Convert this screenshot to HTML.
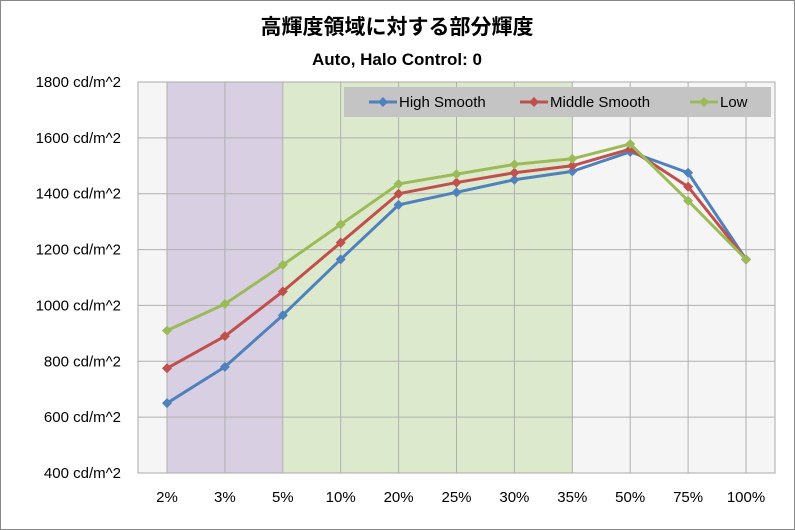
<!DOCTYPE html>
<html><head><meta charset="utf-8"><style>
body{margin:0;background:#fff;}
svg{display:block;font-family:"Liberation Sans","Noto Sans CJK JP",sans-serif;}
</style></head><body>
<svg id="s" width="795" height="530" xmlns="http://www.w3.org/2000/svg">
<rect x="0.5" y="0.5" width="794" height="529" fill="#fff" stroke="#888"/>
<text x="397" y="34" text-anchor="middle" font-size="21" font-weight="bold" fill="#000">高輝度領域に対する部分輝度</text>
<text x="397" y="65" text-anchor="middle" font-size="17" font-weight="bold" fill="#000">Auto, Halo Control: 0</text>
<rect x="138" y="82" width="637" height="391" fill="#f5f5f5"/>
<rect x="167" y="82" width="116" height="391" fill="#d8d0e2"/>
<rect x="283" y="82" width="290" height="391" fill="#dde9cc"/>
<g id="grid"></g>
<rect x="138" y="82" width="637" height="391" fill="none" stroke="#aaa"/>
<g id="series"></g>
<rect x="344" y="87" width="427" height="30" fill="#c4c4c4"/>
<g font-size="15" fill="#000">
<line x1="369" y1="102" x2="397" y2="102" stroke="#4f81bd" stroke-width="3"/><path d="M383 97l5 5-5 5-5-5z" fill="#4f81bd"/><text x="399" y="107">High Smooth</text>
<line x1="520" y1="102" x2="548" y2="102" stroke="#c0504d" stroke-width="3"/><path d="M534 97l5 5-5 5-5-5z" fill="#c0504d"/><text x="550" y="107">Middle Smooth</text>
<line x1="690" y1="102" x2="718" y2="102" stroke="#9bbb59" stroke-width="3"/><path d="M704 97l5 5-5 5-5-5z" fill="#9bbb59"/><text x="720" y="107">Low</text>
</g>
</svg>
<script>
const ns="http://www.w3.org/2000/svg";
const X=i=>167+i*57.9, Y=v=>473-(v-400)*391/1400;
const g=document.getElementById('grid'), sg=document.getElementById('series');
function el(p,t,a,txt){const e=document.createElementNS(ns,t);for(const k in a)e.setAttribute(k,a[k]);if(txt)e.textContent=txt;p.appendChild(e);return e;}
for(let v=400;v<=1800;v+=200){el(g,'line',{x1:138,x2:775,y1:Y(v),y2:Y(v),stroke:'#b0b0b0'});el(g,'text',{x:121,y:Y(v)+5,'text-anchor':'end','font-size':15},v+' cd/m^2');}
const labs=['2%','3%','5%','10%','20%','25%','30%','35%','50%','75%','100%'];
labs.forEach((l,i)=>{el(g,'line',{x1:X(i),x2:X(i),y1:82,y2:473,stroke:'#b0b0b0'});el(g,'text',{x:X(i),y:502,'text-anchor':'middle','font-size':15},l);});
const S=[['#4f81bd',[650,780,965,1165,1360,1405,1450,1480,1550,1475,1165]],
['#c0504d',[775,890,1050,1225,1400,1440,1475,1500,1560,1425,1165]],
['#9bbb59',[910,1005,1145,1290,1435,1470,1505,1525,1578,1375,1165]]];
S.forEach(([c,d])=>{el(sg,'polyline',{points:d.map((v,i)=>X(i)+','+Y(v)).join(' '),fill:'none',stroke:c,'stroke-width':3,'stroke-linejoin':'round'});
d.forEach((v,i)=>{const x=X(i),y=Y(v);el(sg,'path',{d:`M${x} ${y-5}l5 5-5 5-5-5z`,fill:c});});});
</script>
</body></html>
